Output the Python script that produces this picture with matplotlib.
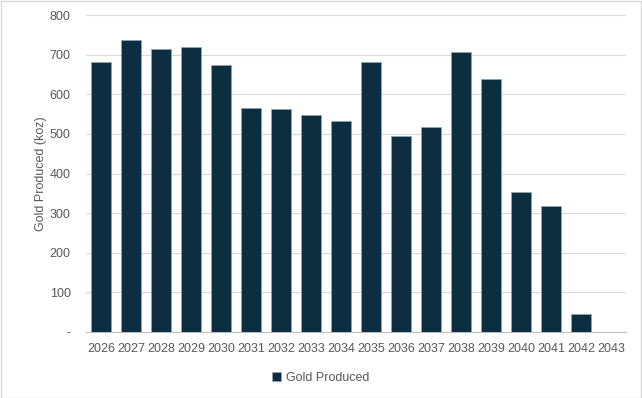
import matplotlib.pyplot as plt
from matplotlib.patches import Rectangle

years = [str(y) for y in range(2026, 2044)]
gold_koz = [682, 737, 715, 720, 674, 566, 563, 548, 533, 682,
            495, 518, 707, 639, 354, 318, 45, 0]
y_ticks = [0, 100, 200, 300, 400, 500, 600, 700, 800]
y_tick_labels = ['-'] + [str(v) for v in y_ticks[1:]]

plt.rcParams['font.family'] = ['Liberation Sans', 'DejaVu Sans']

bar_color = '#0D2D40'
text_color = '#595959'

fig = plt.figure(figsize=(6.42, 3.98), dpi=100)
ax = fig.add_axes([0.134, 0.166, 0.841, 0.796])

x = range(len(years))
ax.bar(x, gold_koz, width=0.69, color=bar_color, edgecolor='#8FA3B0',
       linewidth=0.6, label='Gold Produced', zorder=3)

ax.set_xlim(-0.5, len(years) - 0.5)
ax.set_ylim(0, 800)
ax.set_yticks(y_ticks)
ax.set_yticklabels(y_tick_labels)
ax.set_xticks(list(x))
ax.set_xticklabels(years)
ax.tick_params(axis='both', length=0, labelsize=9, colors=text_color)
ax.tick_params(axis='y', pad=11)
ax.tick_params(axis='x', pad=8)

ax.grid(axis='y', color='#D9D9D9', linewidth=0.8, zorder=0)
for side in ['top', 'right', 'left']:
    ax.spines[side].set_visible(False)
ax.spines['bottom'].set_color('#BFBFBF')
ax.spines['bottom'].set_linewidth(0.8)

ax.set_ylabel('Gold Produced (koz)', fontsize=9, color=text_color, labelpad=2)

fig.legend(loc='center', bbox_to_anchor=(0.5, 0.05), frameon=False,
           fontsize=9, labelcolor=text_color, handlelength=0.7,
           handleheight=0.7, handletextpad=0.4)

fig.patches.append(Rectangle((0.001, 0.001), 0.997, 0.997, transform=fig.transFigure,
                             fill=False, edgecolor='#D9D9D9', linewidth=1))

fig.savefig('out.png', dpi=100)
